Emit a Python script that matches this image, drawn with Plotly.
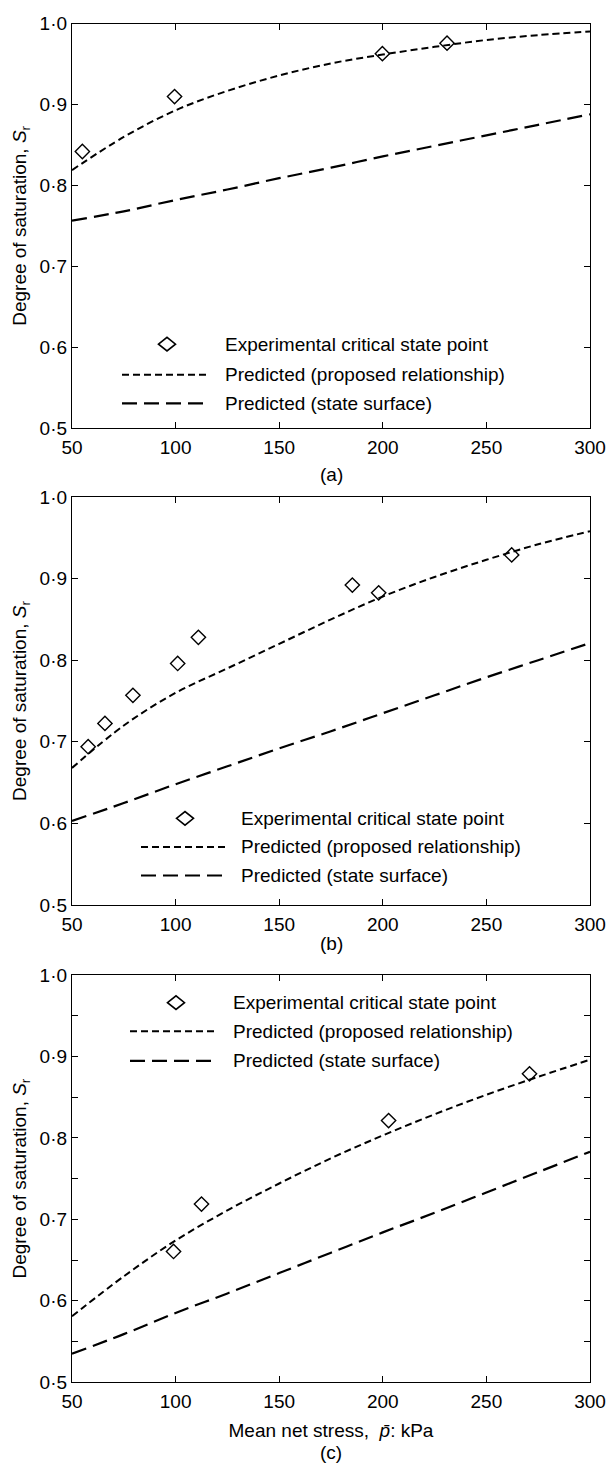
import plotly.graph_objects as go

# ---------------- data ----------------
x_curve = [50, 75, 100, 125, 150, 175, 200, 225, 250, 275, 300]

# panel (a)
a_exp_x = [55, 99.5, 199.8, 231]
a_exp_y = [0.842, 0.910, 0.963, 0.976]
a_prop_y = [0.819, 0.860, 0.893, 0.917, 0.936, 0.951, 0.962, 0.9715, 0.980, 0.986, 0.9906]
a_surf_y = [0.7565, 0.768, 0.782, 0.795, 0.809, 0.822, 0.836, 0.849, 0.862, 0.875, 0.888]

# panel (b)
b_exp_x = [57.8, 65.9, 79.4, 101, 111, 185.3, 198, 262.2]
b_exp_y = [0.694, 0.7225, 0.757, 0.796, 0.828, 0.892, 0.8826, 0.929]
b_prop_y = [0.668, 0.720, 0.760, 0.790, 0.820, 0.850, 0.878, 0.902, 0.923, 0.942, 0.958]
b_surf_y = [0.603, 0.625, 0.648, 0.670, 0.692, 0.713, 0.735, 0.757, 0.779, 0.800, 0.821]

# panel (c)
c_exp_x = [99, 112.5, 202.8, 270.8]
c_exp_y = [0.6605, 0.7187, 0.8213, 0.8787]
c_prop_y = [0.581, 0.630, 0.674, 0.711, 0.744, 0.775, 0.803, 0.829, 0.853, 0.875, 0.896]
c_surf_y = [0.535, 0.559, 0.585, 0.609, 0.634, 0.659, 0.684, 0.708, 0.733, 0.758, 0.783]

x_ticks = [50, 100, 150, 200, 250, 300]
y_ticks = [0.5, 0.6, 0.7, 0.8, 0.9, 1.0]
y_tick_text = ["0·5", "0·6", "0·7", "0·8", "0·9", "1·0"]
c_minor_y = [0.55, 0.65, 0.75, 0.85, 0.95]

legend_labels = ["Experimental critical state point",
                 "Predicted (proposed relationship)",
                 "Predicted (state surface)"]
panel_labels = ["(a)", "(b)", "(c)"]
y_title = "Degree of saturation, <i>S</i><sub>r</sub>"
x_title = "Mean net stress,  <i>p̄</i>: kPa"

# ---------------- layout geometry ----------------
W, H = 616, 1474
L, R = 72, 26
FONT = "Liberation Sans, Arial, sans-serif"
FS = 19
DOT = "7px,4px"
DASH = "15px,7px"

# pixel rows of each panel (top, bottom)
panels_px = [(14, 424), (494, 908), (979, 1392)]


def px_x(px):
    return (px - L) / (W - L - R)


def px_y(py):
    return (H - py) / H


fig = go.Figure()

datasets = [
    (a_exp_x, a_exp_y, a_prop_y, a_surf_y),
    (b_exp_x, b_exp_y, b_prop_y, b_surf_y),
    (c_exp_x, c_exp_y, c_prop_y, c_surf_y),
]

for i, (ex, ey, prop, surf) in enumerate(datasets):
    suffix = "" if i == 0 else str(i + 1)
    xa, ya = "x" + suffix, "y" + suffix
    fig.add_trace(go.Scatter(x=x_curve, y=surf, mode="lines", xaxis=xa, yaxis=ya,
                             line=dict(color="black", width=2.2, dash=DASH, shape="spline"),
                             showlegend=False, name=legend_labels[2]))
    fig.add_trace(go.Scatter(x=x_curve, y=prop, mode="lines", xaxis=xa, yaxis=ya,
                             line=dict(color="black", width=2, dash=DOT, shape="spline"),
                             showlegend=False, name=legend_labels[1]))
    fig.add_trace(go.Scatter(x=ex, y=ey, mode="markers", xaxis=xa, yaxis=ya,
                             marker=dict(symbol="diamond-open", size=11, color="black",
                                         line=dict(width=1.4, color="black")),
                             showlegend=False, name=legend_labels[0]))

axis_common = dict(showline=True, linecolor="black", linewidth=1.3, mirror="ticks",
                   ticks="inside", ticklen=6, tickwidth=1.2, tickcolor="black",
                   showgrid=False, zeroline=False,
                   tickfont=dict(family=FONT, size=FS, color="black"))

layout = dict(width=W, height=H, margin=dict(l=L, r=R, t=0, b=0),
              paper_bgcolor="white", plot_bgcolor="white",
              font=dict(family=FONT, size=FS, color="black"), showlegend=False)

shapes, annotations = [], []

# legend geometry per panel: diamond centre, row ys, sample x range, text left
legends_px = [
    dict(dx=167, rows=(339, 370, 399), sx=(122, 210), tx=223),
    dict(dx=185, rows=(820, 849, 878), sx=(141, 227), tx=239),
    dict(dx=176, rows=(1007, 1036, 1066), sx=(130, 217), tx=231),
]
label_py = [471, 947, 1463]

for i, (top, bot) in enumerate(panels_px):
    suffix = "" if i == 0 else str(i + 1)
    xkey, ykey = "xaxis" + suffix, "yaxis" + suffix
    xa = dict(axis_common, domain=[0, 1], range=[50, 300], tickvals=x_ticks,
              anchor="y" + suffix, ticklabelstandoff=2)
    ya = dict(axis_common, domain=[px_y(bot), px_y(top)], range=[0.5, 1.0],
              tickvals=y_ticks, ticktext=y_tick_text, anchor="x" + suffix,
              title=dict(text=y_title, font=dict(family=FONT, size=FS), standoff=7))
    if i == 2:
        ya["minor"] = dict(tickvals=c_minor_y, ticks="inside", ticklen=6,
                           tickcolor="black", tickwidth=1.2)
        xa["title"] = dict(text=x_title, font=dict(family=FONT, size=FS), standoff=12)
    layout[xkey] = xa
    layout[ykey] = ya

    lg = legends_px[i]
    r0, r1, r2 = lg["rows"]
    shapes.append(dict(type="path", xref="paper", yref="paper",
                       xsizemode="pixel", ysizemode="pixel",
                       xanchor=px_x(lg["dx"]), yanchor=px_y(r0),
                       path="M-8.5,0 L0,6.8 L8.5,0 L0,-6.8 Z",
                       line=dict(color="black", width=1.6), fillcolor="rgba(0,0,0,0)"))
    shapes.append(dict(type="line", xref="paper", yref="paper",
                       x0=px_x(lg["sx"][0]), x1=px_x(lg["sx"][1]),
                       y0=px_y(r1), y1=px_y(r1),
                       line=dict(color="black", width=2, dash=DOT)))
    shapes.append(dict(type="line", xref="paper", yref="paper",
                       x0=px_x(lg["sx"][0]), x1=px_x(lg["sx"][1]),
                       y0=px_y(r2), y1=px_y(r2),
                       line=dict(color="black", width=2.2, dash=DASH)))
    for txt, ry in zip(legend_labels, lg["rows"]):
        annotations.append(dict(text=txt, xref="paper", yref="paper",
                                x=px_x(lg["tx"]), y=px_y(ry), xanchor="left",
                                yanchor="middle", showarrow=False,
                                font=dict(family=FONT, size=FS, color="black")))
    annotations.append(dict(text=panel_labels[i], xref="paper", yref="paper",
                            x=0.5, y=px_y(label_py[i]), xanchor="center",
                            yanchor="middle", showarrow=False,
                            font=dict(family=FONT, size=FS, color="black")))

layout["shapes"] = shapes
layout["annotations"] = annotations
fig.update_layout(**layout)

fig.write_html("out.html", config={"displayModeBar": False},
               post_script="document.body.style.margin='0';")
